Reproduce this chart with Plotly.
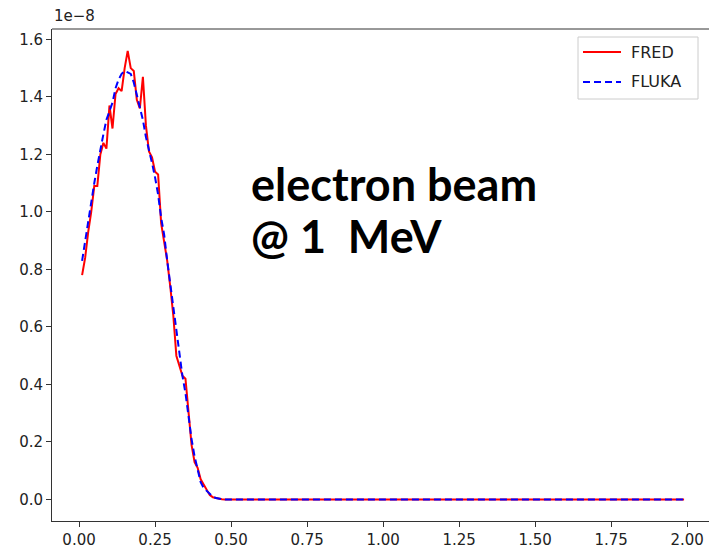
import plotly.graph_objects as go

# depth positions (cm) of the nonzero part, then tail bins
x_peak = [0.01, 0.02, 0.03, 0.04, 0.05, 0.06, 0.07, 0.08, 0.09, 0.10,
          0.11, 0.12, 0.13, 0.14, 0.15, 0.16, 0.17, 0.18, 0.19, 0.20,
          0.21, 0.22, 0.23, 0.24, 0.25, 0.26, 0.27, 0.28, 0.29, 0.30,
          0.31, 0.32, 0.33, 0.34, 0.35, 0.36, 0.37, 0.38, 0.39, 0.40,
          0.41, 0.42, 0.43, 0.44, 0.45, 0.46, 0.47]
# values in units of 1e-8
fred_peak = [0.78, 0.84, 0.93, 1.00, 1.09, 1.09, 1.20, 1.24, 1.22, 1.37,
             1.29, 1.41, 1.43, 1.42, 1.50, 1.56, 1.50, 1.49, 1.39, 1.36,
             1.47, 1.30, 1.21, 1.19, 1.14, 1.13, 0.96, 0.90, 0.83, 0.74,
             0.64, 0.50, 0.46, 0.43, 0.42, 0.30, 0.19, 0.13, 0.11, 0.07,
             0.05, 0.03, 0.015, 0.008, 0.005, 0.003, 0.001]
fluka_peak = [0.83, 0.90, 0.97, 1.04, 1.10, 1.16, 1.22, 1.27, 1.32, 1.35,
              1.38, 1.43, 1.46, 1.48, 1.49, 1.485, 1.48, 1.45, 1.41, 1.36,
              1.32, 1.26, 1.22, 1.17, 1.12, 1.06, 0.98, 0.92, 0.83, 0.75,
              0.67, 0.58, 0.50, 0.43, 0.37, 0.29, 0.21, 0.15, 0.10, 0.06,
              0.04, 0.03, 0.02, 0.01, 0.005, 0.002, 0.001]
x_tail = [round(0.48 + 0.01 * i, 2) for i in range(152)]  # 0.48 .. 1.99
tail_values = [0.0] * len(x_tail)

x = x_peak + x_tail
fred = fred_peak + tail_values
fluka = fluka_peak + tail_values

x_ticks = [0.0, 0.25, 0.5, 0.75, 1.0, 1.25, 1.5, 1.75, 2.0]
x_ticklabels = ["0.00", "0.25", "0.50", "0.75", "1.00", "1.25", "1.50", "1.75", "2.00"]
y_ticks = [0.0, 0.2, 0.4, 0.6, 0.8, 1.0, 1.2, 1.4, 1.6]
y_ticklabels = ["0.0", "0.2", "0.4", "0.6", "0.8", "1.0", "1.2", "1.4", "1.6"]
scale_label = "1e\u22128"
series_names = ["FRED", "FLUKA"]
title_lines = ["electron beam", "@ 1\u00a0 MeV"]

W, H = 709, 555
L, R, T, B = 52, 0, 29, 34

fig = go.Figure()
fig.add_trace(go.Scatter(x=x, y=fred, mode="lines", name=series_names[0],
                         line=dict(color="#ff0000", width=2), showlegend=False))
fig.add_trace(go.Scatter(x=x, y=fluka, mode="lines", name=series_names[1],
                         line=dict(color="#0000ff", width=2, dash="7px,4px"),
                         showlegend=False))

tick_font = dict(family="DejaVu Sans", size=15, color="#222222")
fig.update_layout(
    width=W, height=H,
    margin=dict(l=L, r=R, t=T, b=B, pad=0),
    paper_bgcolor="white", plot_bgcolor="white",
    xaxis=dict(range=[-0.089, 2.072], tickvals=x_ticks, ticktext=x_ticklabels,
               showgrid=False, zeroline=False, showline=True, linecolor="#333333",
               linewidth=1, ticks="outside", ticklen=5, tickcolor="#333333",
               tickfont=tick_font),
    yaxis=dict(range=[-0.0748, 1.636], tickvals=y_ticks, ticktext=y_ticklabels,
               showgrid=False, zeroline=False, showline=True, linecolor="#333333",
               linewidth=1, ticks="outside", ticklen=5, tickcolor="#333333",
               tickfont=tick_font),
    showlegend=False,
)

pw, ph = W - L - R, H - T - B
def px(xp):
    return (xp - L) / pw
def py(yp):
    return (H - B - yp) / ph

# top spine
fig.add_shape(type="line", xref="paper", yref="paper", x0=0, x1=1, y0=1, y1=1,
              line=dict(color="#333333", width=1))

# scale label
fig.add_annotation(text=scale_label, xref="paper", yref="paper", x=0, y=1,
                   xanchor="left", yanchor="bottom", yshift=2, showarrow=False,
                   font=dict(family="DejaVu Sans", size=15, color="#222222"))

# in-plot text, one annotation per line
for yy, line_text in zip([184, 236], title_lines):
    fig.add_annotation(text="<b>" + line_text + "</b>", xref="paper", yref="paper",
                       x=px(249), y=py(yy), xanchor="left", yanchor="middle",
                       align="left", showarrow=False,
                       font=dict(family="Lato", size=45, color="black"))

# legend drawn by hand
fig.add_shape(type="rect", xref="paper", yref="paper",
              x0=px(578), x1=px(698), y0=py(99), y1=py(37),
              line=dict(color="#cccccc", width=1), fillcolor="rgba(255,255,255,0.8)")
legend_rows = [(52, "#ff0000", "solid"), (82, "#0000ff", "7px,4px")]
for (yy, col, dash), name in zip(legend_rows, series_names):
    fig.add_shape(type="line", xref="paper", yref="paper",
                  x0=px(583), x1=px(621), y0=py(yy), y1=py(yy),
                  line=dict(color=col, width=2, dash=dash))
    fig.add_annotation(text=name, xref="paper", yref="paper", x=px(629), y=py(yy),
                       xanchor="left", yanchor="middle", showarrow=False,
                       font=dict(family="DejaVu Sans", size=16, color="#222222"))

fig.write_html("out.html")
